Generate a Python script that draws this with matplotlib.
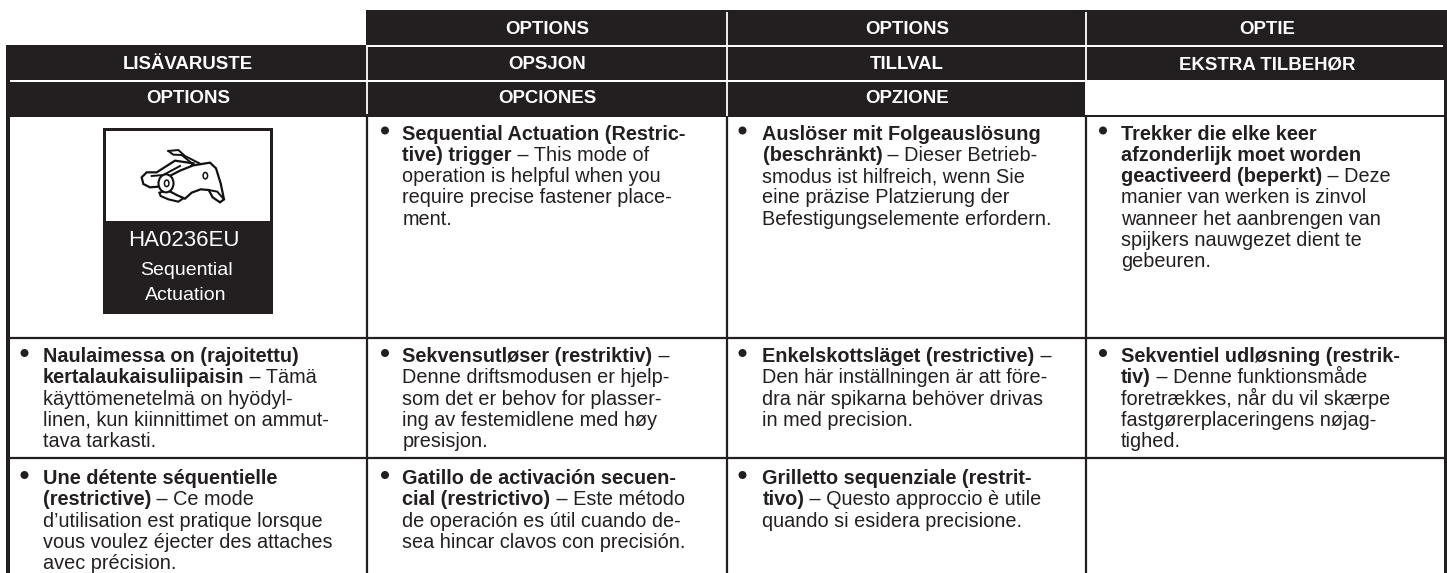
import matplotlib
matplotlib.use("Agg")
import matplotlib.pyplot as plt
from matplotlib.patches import Rectangle, Polygon, Ellipse

W, H = 1447, 573
DARK = "#231f20"
plt.rcParams['font.family'] = ['Liberation Sans', 'DejaVu Sans']

header1 = ["", "OPTIONS", "OPTIONS", "OPTIE"]
header2 = ["LISÄVARUSTE", "OPSJON", "TILLVAL", "EKSTRA TILBEHØR"]
header3 = ["OPTIONS", "OPCIONES", "OPZIONE", ""]

# "|" separates bold from regular on a line
row1 = [
    None,
    ["Sequential Actuation (Restric-", "tive) trigger| – This mode of", "|operation is helpful when you",
     "|require precise fastener place-", "|ment."],
    ["Auslöser mit Folgeauslösung", "(beschränkt)| – Dieser Betrieb-", "|smodus ist hilfreich, wenn Sie",
     "|eine präzise Platzierung der", "|Befestigungselemente erfordern."],
    ["Trekker die elke keer", "afzonderlijk moet worden", "geactiveerd (beperkt)| – Deze",
     "|manier van werken is zinvol", "|wanneer het aanbrengen van", "|spijkers nauwgezet dient te", "|gebeuren."],
]
row2 = [
    ["Naulaimessa on (rajoitettu)", "kertalaukaisuliipaisin| – Tämä", "|käyttömenetelmä on hyödyl-",
     "|linen, kun kiinnittimet on ammut-", "|tava tarkasti."],
    ["Sekvensutløser (restriktiv)| –", "|Denne driftsmodusen er hjelp-", "|som det er behov for plasser-",
     "|ing av festemidlene med høy", "|presisjon."],
    ["Enkelskottsläget (restrictive)| –", "|Den här inställningen är att före-", "|dra när spikarna behöver drivas",
     "|in med precision."],
    ["Sekventiel udløsning (restrik-", "tiv)| – Denne funktionsmåde", "|foretrækkes, når du vil skærpe",
     "|fastgørerplaceringens nøjag-", "|tighed."],
]
row3 = [
    ["Une détente séquentielle", "(restrictive)| – Ce mode", "|d’utilisation est pratique lorsque",
     "|vous voulez éjecter des attaches", "|avec précision."],
    ["Gatillo de activación secuen-", "cial (restrictivo)| – Este método", "|de operación es útil cuando de-",
     "|sea hincar clavos con precisión."],
    ["Grilletto sequenziale (restrit-", "tivo)| – Questo approccio è utile", "|quando si esidera precisione."],
    None,
]
badge_code = "HA0236EU"
badge_lines = ["Sequential", "Actuation"]

col_x = [6, 366.5, 726.5, 1085.5, 1447]
text_x = [43, 402.5, 762.5, 1121]
bullet_x = [24.5, 385, 742.5, 1103]
row_base = [139.5, 362, 484]
LEAD = 21.3
FS = 14.3
HFS = 13.4

fig = plt.figure(figsize=(W / 100, H / 100), dpi=100)
ax = fig.add_axes([0, 0, 1, 1])
ax.set_xlim(0, W)
ax.set_ylim(H, 0)
ax.axis("off")
rend = fig.canvas.get_renderer()


def rect(x0, y0, x1, y1, c=DARK, z=1):
    ax.add_patch(Rectangle((x0, y0), x1 - x0, y1 - y0, fc=c, ec="none", zorder=z))


# header bands
rect(366, 10, W, 44.5)
rect(6, 44.5, W, 116.5)
rect(1085, 80, 1443.5, 115, "white", 2)
rect(10, 80, 1085, 82, "white", 2)
rect(366, 45, 1443, 47, "white", 2)
for xx, y0, y1 in [(366.5, 47, 114), (726.5, 12, 116)]:
    ax.plot([xx, xx], [y0, y1], color="white", lw=1.3, zorder=3, solid_capstyle="butt")
ax.plot([1086, 1086], [12, 80], color="white", lw=1.3, zorder=3, solid_capstyle="butt")

# grid
for yy in [338, 458]:
    ax.plot([6, W], [yy, yy], color=DARK, lw=1.6, zorder=3, solid_capstyle="butt")
for xx in col_x[1:4]:
    ax.plot([xx, xx], [116, H], color=DARK, lw=1.6, zorder=3, solid_capstyle="butt")
rect(6, 116, 10, H, DARK, 3)
rect(1443.5, 44, W, H, DARK, 3)

# header text
for hdr, yc in zip([header1, header2, header3], [29, 64.5, 98.5]):
    for i, s in enumerate(hdr):
        if s:
            ax.text((col_x[i] + col_x[i + 1]) / 2 + (2 if i == 0 else 1), yc, s, color="white", fontsize=HFS,
                    fontweight="bold", ha="center", va="center", zorder=5)


def draw_cell(lines, col, base):
    ax.add_patch(Ellipse((bullet_x[col], base - 9), 8, 8, fc=DARK, ec="none", zorder=4))
    for k, line in enumerate(lines):
        bold, _, reg = line.partition("|")
        y = base + k * LEAD
        x = text_x[col]
        if bold:
            t = ax.text(x, y, bold, fontsize=FS, fontweight="bold", color=DARK, va="baseline", ha="left", zorder=5)
            if reg:
                bb = t.get_window_extent(rend)
                x = bb.x1
        if reg:
            ax.text(x, y, reg, fontsize=FS, color=DARK, va="baseline", ha="left", zorder=5)


for row, base in zip([row1, row2, row3], row_base):
    for c, cell in enumerate(row):
        if cell:
            draw_cell(cell, c, base)

# badge
rect(103, 128, 272.5, 314, DARK, 2)
rect(106, 130.5, 269.5, 220.5, "white", 3)
ax.text(184, 240, badge_code, color="white", fontsize=16, ha="center", va="center", zorder=5)
for s, yc in zip(badge_lines, [270.5, 296]):
    ax.text(186, yc, s, color="white", fontsize=14, ha="center", va="center", zorder=5)

# trigger sketch
ox, oy, sc = 130, 140, 1 / 3
INK = "#111111"
def P(pts):
    return [(ox + a * sc, oy + b * sc) for a, b in pts]
fork = P([(35, 112), (50, 97), (80, 97), (135, 62), (190, 70), (170, 95), (100, 125), (85, 140), (60, 142), (40, 132)])
ax.add_patch(Polygon(fork, closed=True, fc="white", ec=INK, lw=1.6, zorder=4))
lobe = P([(88, 158), (110, 152), (140, 158), (160, 175), (145, 185), (115, 178), (92, 168)])
ax.add_patch(Polygon(lobe, closed=True, fc="white", ec=INK, lw=1.5, zorder=4))
plate = P([(95, 120), (150, 92), (190, 76), (240, 68), (258, 85), (272, 130), (282, 178), (270, 187), (248, 172),
           (236, 150), (212, 148), (185, 158), (165, 176), (140, 165), (112, 150), (95, 140)])
ax.add_patch(Polygon(plate, closed=True, fc="white", ec=INK, lw=1.6, zorder=5))
for seg in [[(115, 33), (145, 30), (165, 48), (212, 72)], [(115, 33), (130, 44), (155, 45), (188, 72)],
            [(65, 108), (100, 105), (150, 78)], [(236, 150), (262, 155), (282, 178)]]:
    ax.plot(*zip(*P(seg)), color=INK, lw=1.4, zorder=6)
ax.add_patch(Ellipse((ox + 108 * sc, oy + 130 * sc), 15, 18, fc="white", ec=INK, lw=1.5, zorder=6))
ax.add_patch(Ellipse((ox + 110 * sc, oy + 130 * sc), 4.5, 6.5, fc="white", ec=INK, lw=1.1, zorder=7))
ax.add_patch(Ellipse((ox + 226 * sc, oy + 107 * sc), 4.5, 6.5, fc="white", ec=INK, lw=1.1, zorder=7))

fig.savefig("out.png", dpi=100, facecolor="white")
